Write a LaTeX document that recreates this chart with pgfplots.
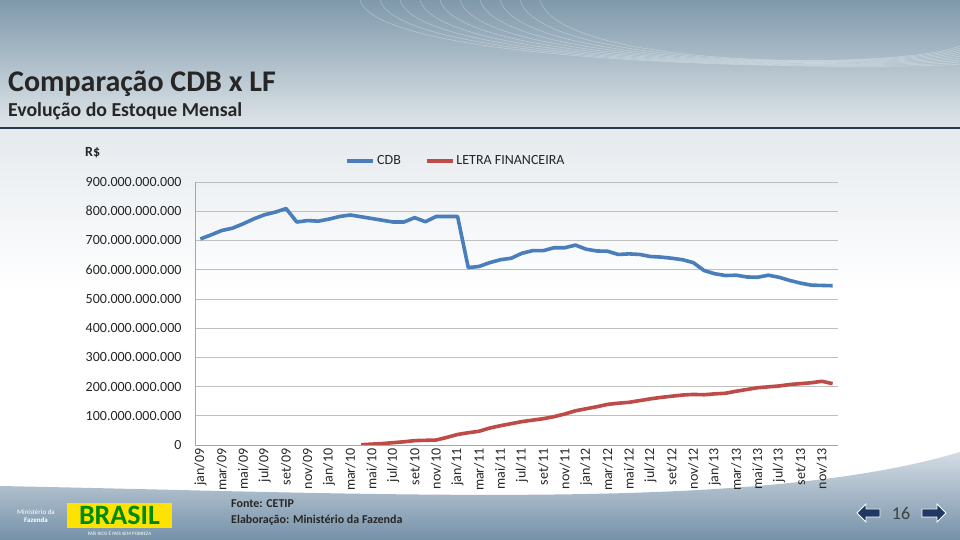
\documentclass[border=0pt]{standalone}
\usepackage{pgfplots}
\pgfplotsset{compat=1.18}
\usepackage{fontspec}
\setmainfont{Carlito}

\definecolor{cdbblue}{HTML}{4A7EBB}
\definecolor{lfred}{HTML}{BE4B48}
\definecolor{hdtop}{HTML}{7F99AB}
\definecolor{hdbot}{HTML}{E0E6EA}
\definecolor{bodytop}{HTML}{E5EAEE}
\definecolor{ftop}{HTML}{D3DCE4}
\definecolor{fbot}{HTML}{7591A8}
\definecolor{navyline}{HTML}{2B3A52}
\definecolor{arrowblue}{HTML}{1F3864}
\definecolor{txt}{HTML}{262626}

\begin{document}
\begin{tikzpicture}
\useasboundingbox (0pt,0pt) rectangle (960pt,540pt);
\begin{scope}[x=1pt,y=1pt]
% slide background
\fill[white] (0,0) rectangle (960,540);
\shade[top color=hdtop, bottom color=hdbot] (0,412) rectangle (960,540);
\foreach \r in {60,80,...,240}
  \draw[white, opacity=0.35, line width=0.5pt] (600-\r,540) .. controls (620-\r,470) and (900,470) .. (960,500-\r/10);
\shade[top color=bodytop, bottom color=white] (0,250) rectangle (960,410);
\fill[navyline] (0,410.5) rectangle (960,412.5);
\shade[top color=ftop, bottom color=fbot]
  (0,0) -- (0,54) .. controls (400,46) and (760,28) .. (960,88) -- (960,0) -- cycle;

% titles
\node[anchor=base west, inner sep=0, text=txt, font=\fontsize{30}{32}\selectfont\bfseries] at (8,448) {Comparação CDB x LF};
\node[anchor=base west, inner sep=0, text=txt, font=\fontsize{19.8}{22}\selectfont\bfseries] at (8,423) {Evolução do Estoque Mensal};
\node[anchor=base west, inner sep=0, text=txt, font=\fontsize{14}{16}\selectfont\bfseries] at (85,383) {R\$};
\end{scope}

\begin{axis}[
    at={(195pt,95pt)}, anchor=south west,
    scale only axis,
    width=643pt, height=263pt,
    xmin=-0.5, xmax=59.5,
    ymin=0, ymax=900,
    axis x line*=bottom, axis y line*=left,
    axis line style={draw=black!35, line width=0.6pt, -},
    major tick length=0pt,
    ymajorgrids=true,
    grid style={draw=black!25, line width=0.6pt},
    ytick={0,100,...,900},
    yticklabels={0,100.000.000.000,200.000.000.000,300.000.000.000,400.000.000.000,500.000.000.000,600.000.000.000,700.000.000.000,800.000.000.000,900.000.000.000},
    yticklabel style={font=\fontsize{14}{16}\selectfont, text=txt, xshift=-10pt},
    xtick={0,2,...,58},
    xticklabels={jan/09,mar/09,mai/09,jul/09,set/09,nov/09,
                 jan/10,mar/10,mai/10,jul/10,set/10,nov/10,
                 jan/11,mar/11,mai/11,jul/11,set/11,nov/11,
                 jan/12,mar/12,mai/12,jul/12,set/12,nov/12,
                 jan/13,mar/13,mai/13,jul/13,set/13,nov/13},
    xticklabel style={font=\fontsize{14}{16}\selectfont, text=txt, rotate=90, anchor=east},
    legend style={at={(0.406,1.08)}, anchor=center, draw=none, fill=none,
                  legend columns=2, font=\fontsize{14}{16}\selectfont, text=txt,
                  /tikz/every even column/.append style={column sep=22pt}},
    legend image code/.code={\draw[#1] (0pt,0pt) -- (26pt,0pt);},
    every axis plot/.append style={line width=3.6pt, line join=round},
]
\addplot[cdbblue] coordinates {
 (0,705) (1,719) (2,734) (3,742) (4,757) (5,774) (6,788) (7,797) (8,809) (9,763)
 (10,768) (11,766) (12,773) (13,782) (14,787) (15,781) (16,775) (17,769) (18,763) (19,763)
 (20,778) (21,764) (22,782) (23,782) (24,782) (25,607) (26,611) (27,624) (28,634) (29,639)
 (30,656) (31,665) (32,665) (33,675) (34,675) (35,684) (36,670) (37,664) (38,663) (39,652)
 (40,654) (41,652) (42,645) (43,643) (44,639) (45,634) (46,624) (47,597) (48,586) (49,580)
 (50,581) (51,575) (52,574) (53,581) (54,574) (55,563) (56,554) (57,547) (58,546) (59,545)
};
\addplot[lfred] coordinates {
 (15,1) (16,3) (17,5) (18,8) (19,11)
 (20,15) (21,16) (22,17) (23,26) (24,36) (25,42) (26,47) (27,58) (28,66) (29,73)
 (30,80) (31,85) (32,90) (33,97) (34,106) (35,117) (36,124) (37,131) (38,139) (39,143)
 (40,146) (41,152) (42,158) (43,163) (44,167) (45,171) (46,173) (47,172) (48,175) (49,177)
 (50,184) (51,190) (52,196) (53,199) (54,202) (55,207) (56,210) (57,213) (58,218) (59,210)
};
\legend{CDB, LETRA FINANCEIRA}
\end{axis}

\begin{scope}[x=1pt,y=1pt]
% footer
\node[anchor=base west, inner sep=0, text=txt, font=\fontsize{12}{14}\selectfont\bfseries] at (231,32) {Fonte: CETIP};
\node[anchor=base west, inner sep=0, text=txt, font=\fontsize{12}{14}\selectfont\bfseries] at (231,16) {Elaboração: Ministério da Fazenda};

% logo
\node[text=white, font=\fontsize{7}{8}\selectfont, align=center] at (36,24) {Ministério da\\\textbf{Fazenda}};
\fill[yellow!85!orange] (67,12) rectangle (172,37);
\node[text=green!55!black, font=\fontsize{28}{28}\selectfont\bfseries] at (119.5,24.5) {BRASIL};
\node[text=white, font=\fontsize{5}{6}\selectfont] at (119.5,7) {PAÍS RICO É PAÍS SEM POBREZA};

% page number and arrows
\node[text=black!75, font=\fontsize{18}{20}\selectfont] at (901,27) {16};
\filldraw[fill=arrowblue, draw=white, line width=0.8pt]
  (857,27) -- (866,36) -- (866,31) -- (880,31) -- (880,23) -- (866,23) -- (866,18) -- cycle;
\filldraw[fill=arrowblue, draw=white, line width=0.8pt]
  (946,27) -- (937,36) -- (937,31) -- (922,31) -- (922,23) -- (937,23) -- (937,18) -- cycle;
\end{scope}
\end{tikzpicture}
\end{document}
